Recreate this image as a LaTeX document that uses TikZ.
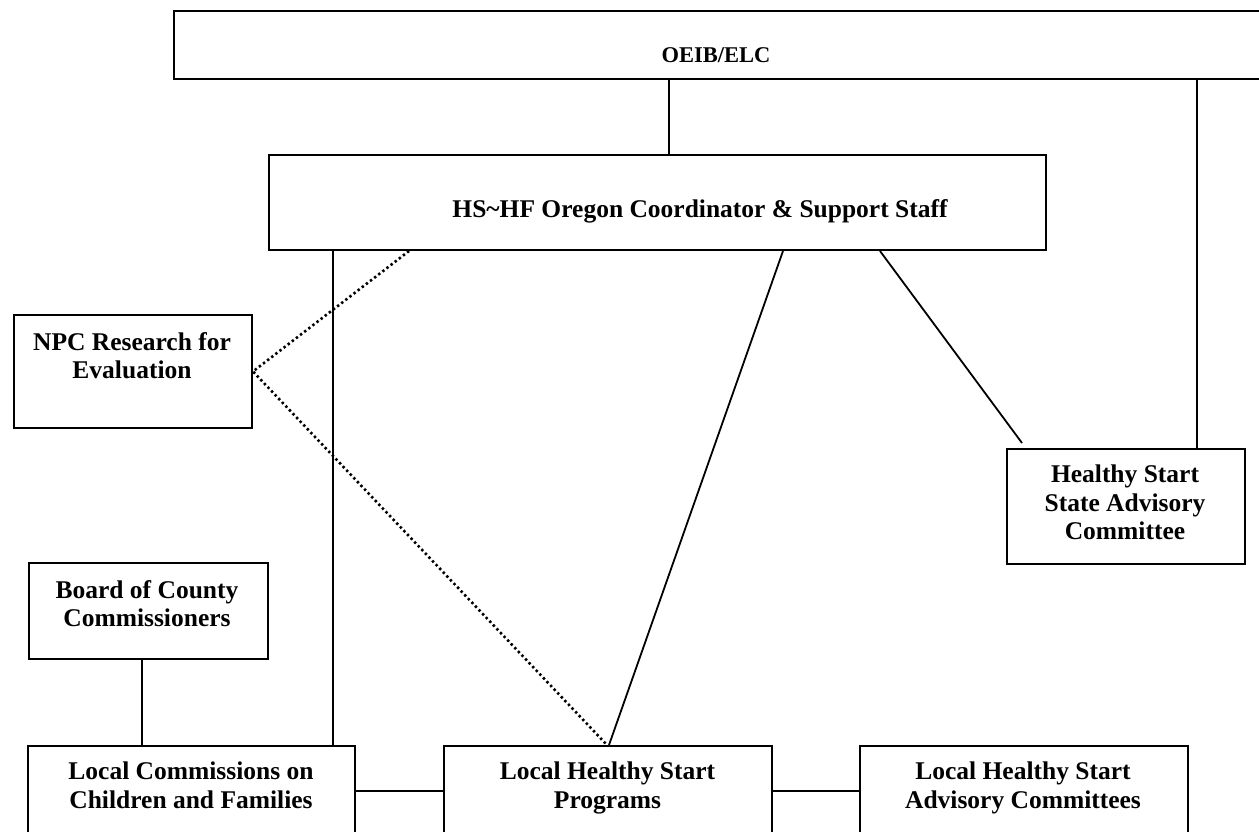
\documentclass[tikz,border=0pt]{standalone}
\usepackage{fontspec}
\setmainfont{Liberation Serif}
\begin{document}
\begin{tikzpicture}[x=1pt,y=-1pt,
  box/.style={draw, line width=2pt, inner sep=0pt, anchor=north west},
  lbl/.style={font=\fontsize{25.5}{28.5}\selectfont\bfseries, align=center, inner sep=0pt, anchor=north},
  conn/.style={line width=1.8pt},
  dotline/.style={line width=2.6pt, dash pattern=on 2.4pt off 2.8pt}]
\useasboundingbox (0,0) rectangle (1259,832);
\clip (0,0) rectangle (1259,832);
\fill[white] (0,0) rectangle (1259,832);
% boxes
\node[box, minimum width=1100pt, minimum height=68pt] (oeib) at (173,10) {};
\node[box, minimum width=777pt, minimum height=95pt] (hs) at (268,154) {};
\node[box, minimum width=238pt, minimum height=113pt] (npc) at (13,314) {};
\node[box, minimum width=238pt, minimum height=115pt] (hssac) at (1006,448) {};
\node[box, minimum width=239pt, minimum height=96pt] (board) at (28,562) {};
\node[box, minimum width=327pt, minimum height=110pt] (lcc) at (27,745) {};
\node[box, minimum width=328pt, minimum height=110pt] (lhsp) at (443,745) {};
\node[box, minimum width=328pt, minimum height=110pt] (lhsac) at (859,745) {};
% texts
\node[lbl, font=\fontsize{22.5}{27}\selectfont\bfseries] (toeib) at (716,47.5) {OEIB/ELC};
\node[lbl] (ths) at (700,199.5) {HS\textasciitilde HF Oregon Coordinator \& Support Staff};
\node[lbl] (tnpc) at (132,332) {NPC Research for\\Evaluation};
\node[lbl] (thssac) at (1125,465) {Healthy Start\\State Advisory\\Committee};
\node[lbl] (tboard) at (147,580) {Board of County\\Commissioners};
\node[lbl] (tlcc) at (191,762) {Local Commissions on\\Children and Families};
\node[lbl] (tlhsp) at (607.5,762) {Local Healthy Start\\Programs};
\node[lbl] (tlhsac) at (1023,762) {Local Healthy Start\\Advisory Committees};
% connector points
\coordinate (c1) at ([xshift=401pt]hs.north west);
\coordinate (c2) at ([xshift=191pt]hssac.north west);
\coordinate (c3) at ([xshift=65pt]hs.south west);
\coordinate (c4) at ([xshift=141pt]hs.south west);
\coordinate (c5) at ([xshift=515pt]hs.south west);
\coordinate (c6) at ([xshift=612pt]hs.south west);
\coordinate (c7) at ([xshift=16pt,yshift=5pt]hssac.north west);
\coordinate (c8) at ([xshift=114pt]board.south west);
\coordinate (c9) at ([yshift=-46pt]lcc.north east);
\coordinate (c10) at ([yshift=-46pt]lhsp.north east);
% connectors
\draw[conn] (c1) -- (c1 |- oeib.south);
\draw[conn] (c2) -- (c2 |- oeib.south);
\draw[conn] (c3) -- (c3 |- lcc.north);
\draw[conn] (c5) -- ([xshift=1pt]lhsp.north);
\draw[conn] (c6) -- (c7);
\draw[conn] (c8) -- (c8 |- lcc.north);
\draw[conn] (c9) -- (c9 -| lhsp.west);
\draw[conn] (c10) -- (c10 -| lhsac.west);
\draw[dotline] (c4) -- (npc.east) -- ([xshift=-1pt]lhsp.north);
\end{tikzpicture}
\end{document}
